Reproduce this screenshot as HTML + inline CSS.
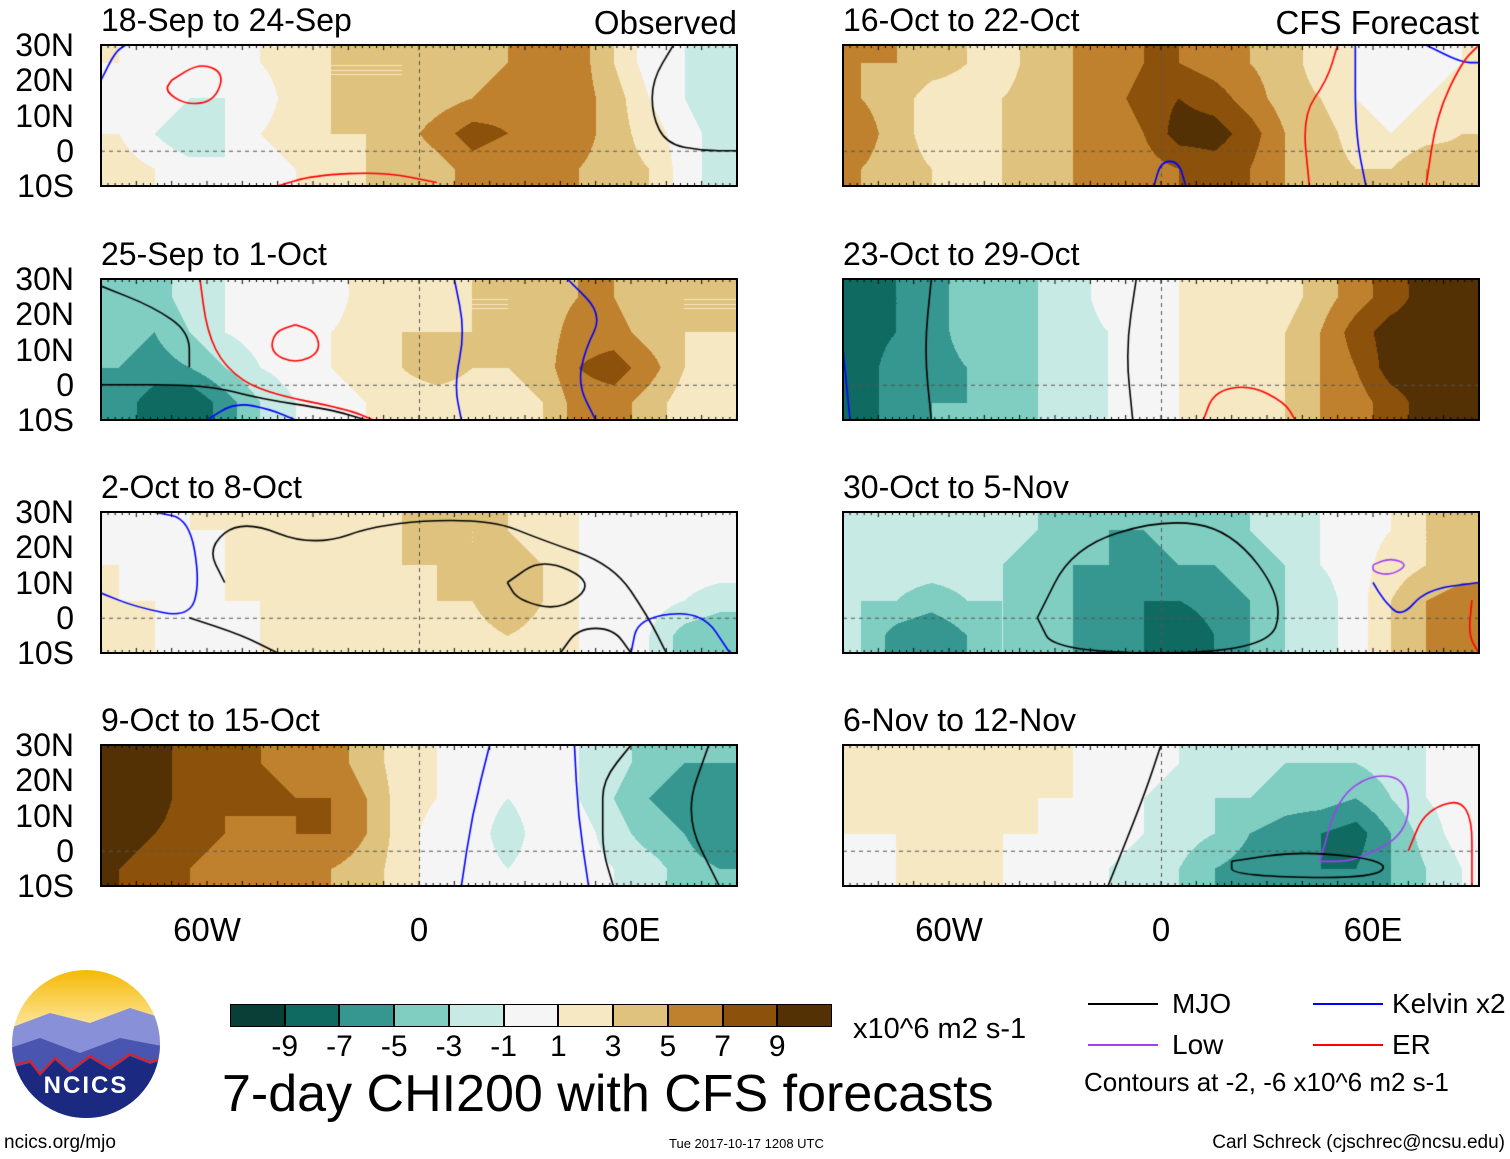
<!DOCTYPE html>
<html><head><meta charset="utf-8">
<style>
body{margin:0;background:#fff;width:1510px;height:1159px;overflow:hidden;position:relative;font-family:"Liberation Sans",sans-serif;}
.t{position:absolute;white-space:nowrap;color:#000;line-height:1;}
canvas{position:absolute;}
.frame{position:absolute;border:2px solid #000;box-sizing:border-box;}
</style></head><body>
<div id="root"></div>
<script>
// Longitude centers -85..85 (10° steps), latitude centers 25,15,5,-5
const lonCenters=[-85,-75,-65,-55,-45,-35,-25,-15,-5,5,15,25,35,45,55,65,75,85];
const latCenters=[25,15,5,-5];
const levels=[-9,-7,-5,-3,-1,1,3,5,7,9];
const colors=["#0a3f38","#0f6b62","#35978f","#80cdc1","#c7eae5","#f5f5f5","#f6e8c3","#dfc27d","#bf812d","#8c510a","#543005"];
const titles=["18-Sep to 24-Sep","25-Sep to 1-Oct","2-Oct to 8-Oct","9-Oct to 15-Oct","16-Oct to 22-Oct","23-Oct to 29-Oct","30-Oct to 5-Nov","6-Nov to 12-Nov"];
const p1=[[1,0,-1,0,1,2,3,3,3,3,4,5,5,6,3,0,-1,-2],[0,1,-1,-1,0,2,3,3,3,4,5,6,5,6,4,1,-1,-3],[1,-1,-3,-1,1,2,3,3,4,6,8,7,5,6,4,2,0,-2],[2,1,0,-1,0,1,2,3,3,4,6,5,5,5,4,3,0,-2]];
const p2=[[-4,-4,-2,-1,0,0,0,2,3,2,3,3,4,5,5,3,3,3],[-4,-5,-3,-1,0,0,1,2,3,3,3,3,4,6,6,4,3,3],[-5,-6,-5,-3,-1,0,1,2,3,4,3,3,4,7,8,6,3,2],[-6,-8,-9,-6,-3,-1,0,1,2,2,2,2,3,6,6,4,2,1]];
const p3=[[0,0,1,1,2,2,1,2,3,4,3,3,2,1,0,0,0,0],[1,0,0,1,1,1,1,2,3,3,3,4,3,1,0,-1,0,0],[1,1,0,1,1,1,1,2,2,3,3,5,3,1,1,0,-1,-2],[2,1,-1,0,1,1,1,1,1,2,2,3,2,1,0,-1,-4,-5]];
const p4=[[10,10,8,7,7,6,6,4,2,1,0,0,0,-1,-2,-4,-5,-5],[10,10,8,7,8,7,7,5,2,1,0,-1,0,-1,-3,-5,-6,-6],[10,9,8,7,6,7,7,5,2,0,0,-2,0,0,-2,-4,-5,-7],[9,8,7,6,5,5,5,4,2,0,0,-1,0,0,-1,-2,-4,-5]];
const p5=[[5,5,4,3,2,4,5,5,7,7,6,5,4,2,1,0,0,1],[5,4,2,2,3,4,5,6,8,9,8,6,4,3,1,0,1,2],[6,4,2,1,3,4,5,5,7,10,10,8,5,4,2,1,2,3],[5,4,3,2,3,4,5,5,6,7,8,7,5,4,3,3,5,4]];
const p6=[[-8,-7,-6,-4,-4,-3,-2,0,0,1,1,2,2,4,6,8,10,10],[-8,-7,-6,-4,-4,-3,-2,-1,0,1,2,2,3,5,8,10,10,10],[-8,-6,-6,-5,-4,-3,-2,-1,0,1,2,2,3,5,7,10,10,10],[-8,-6,-5,-5,-4,-3,-2,-1,0,1,1,1,3,5,6,8,10,10]];
const p7=[[-2,-2,-2,-2,-2,-3,-4,-5,-5,-4,-4,-3,-2,-1,0,1,3,3],[-2,-2,-2,-2,-3,-4,-5,-5,-6,-5,-5,-4,-3,-1,0,2,3,4],[-3,-3,-4,-3,-3,-4,-5,-6,-7,-7,-6,-5,-3,-2,0,3,5,6],[-3,-6,-7,-5,-3,-4,-5,-6,-7,-9,-7,-5,-3,-2,0,3,5,5]];
const p8=[[1,2,2,1,1,1,1,0,0,-1,-2,-2,-3,-3,-3,-2,-1,0],[1,2,3,2,1,1,1,0,-1,-2,-3,-3,-4,-4,-5,-3,-1,0],[1,1,2,1,1,1,0,0,-1,-2,-3,-5,-6,-7,-8,-5,-2,0],[0,1,1,1,1,0,0,-1,-2,-3,-5,-6,-6,-7,-7,-5,-3,-1]];
const panels=[p1,p2,p3,p4,p5,p6,p7,p8];
// contour lines per panel: [color, [[lon,lat],...]]
const contours=[
 [["#f00",[[-70,20],[-62,25],[-55,22],[-58,14],[-66,13],[-72,17],[-70,20]]],["#f00",[[-40,-10],[-30,-7],[-10,-6],[5,-9]]],["#000",[[72,30],[66,20],[66,10],[70,2],[80,0],[90,0]]],["#00f",[[-90,20],[-86,28],[-83,30]]]],
 [["#00f",[[10,30],[13,15],[10,0],[12,-10]]],["#00f",[[42,30],[52,20],[47,10],[45,0],[50,-10]]],["#f00",[[-62,30],[-60,15],[-55,5],[-45,-2],[-20,-7],[-13,-10]]],["#000",[[-90,0],[-60,0],[-45,-4],[-25,-7],[-15,-10]]],["#f00",[[-35,17],[-29,15],[-28,9],[-35,6],[-42,9],[-41,15],[-35,17]]],["#00f",[[-60,-10],[-52,-5],[-42,-7],[-35,-10]]],["#000",[[-90,28],[-75,22],[-65,15],[-65,5]]]],
 [["#000",[[-55,10],[-60,20],[-50,28],[-30,20],[-10,27],[20,28],[35,22],[55,15],[65,0],[70,-10]]],["#000",[[25,10],[35,17],[50,10],[40,2],[28,5],[25,10]]],["#00f",[[60,-10],[62,0],[80,2],[88,-10]]],["#00f",[[-75,30],[-65,28],[-62,10],[-65,0],[-80,3],[-90,7]]],["#000",[[-65,0],[-50,-5],[-40,-10]]],["#000",[[40,-10],[45,-3],[55,-3],[60,-10]]]],
 [["#00f",[[20,30],[15,10],[12,-10]]],["#00f",[[44,30],[45,10],[48,-10]]],["#000",[[82,30],[75,10],[85,-10]]],["#000",[[60,30],[52,20],[52,10],[52,0],[55,-10]]]],
 [["#f00",[[42,-10],[40,10],[47,20],[50,30]]],["#00f",[[55,30],[55,5],[58,-10]]],["#00f",[[75,30],[85,25],[90,25]]],["#f00",[[75,-10],[78,10],[85,25],[90,30]]],["#00f",[[-2,-10],[0,-3],[5,-3],[7,-10]]]],
 [["#000",[[-65,30],[-67,10],[-65,-10]]],["#000",[[-7,30],[-10,10],[-8,-10]]],["#f00",[[12,-10],[15,-2],[25,0],[35,-5],[38,-10]]],["#00f",[[-90,10],[-88,-10]]]],
 [["#000",[[-35,0],[-25,20],[0,28],[20,25],[35,5],[30,-10],[-30,-10],[-35,0]]],["#a040f0",[[60,15],[65,17],[70,15],[65,12],[60,13],[60,15]]],["#00f",[[60,10],[63,5],[68,0],[75,8],[90,10]]],["#f00",[[88,5],[87,-5],[90,-10]]]],
 [["#a040f0",[[45,-3],[50,15],[60,22],[70,20],[70,5],[55,-3],[45,-3]]],["#f00",[[70,0],[75,12],[88,15],[88,-10]]],["#000",[[20,-3],[40,0],[65,-3],[60,-8],[20,-7],[20,-3]]],["#000",[[-15,-10],[-5,15],[0,30]]]]
];
const yTicks=["30N","20N","10N","0","10S"];
const xTicks=["60W","0","60E"];
const xTickLon=[-60,0,60];

const root=document.getElementById('root');
const colX=[101,843], rowY=[45,279,512,745], W=636, H=141;
function xScale(lon){return (lon+90)/180*W;}
function yScale(lat){return (30-lat)/40*H;}
function hex(c){return [parseInt(c.substr(1,2),16),parseInt(c.substr(3,2),16),parseInt(c.substr(5,2),16)];}
const rgb=colors.map(hex);
function bin(v){let i=0;while(i<levels.length&&v>=levels[i])i++;return i;}
function sample(g,lon,lat){
  let fi=(lon-lonCenters[0])/10, fj=(latCenters[0]-lat)/10;
  fi=Math.max(0,Math.min(lonCenters.length-1,fi)); fj=Math.max(0,Math.min(latCenters.length-1,fj));
  const i0=Math.floor(fi),j0=Math.floor(fj),i1=Math.min(i0+1,lonCenters.length-1),j1=Math.min(j0+1,latCenters.length-1);
  const a=fi-i0,b=fj-j0;
  return (g[j0][i0]*(1-a)+g[j0][i1]*a)*(1-b)+(g[j1][i0]*(1-a)+g[j1][i1]*a)*b;
}
function txt(s,x,y,size,name){const d=document.createElement('div');d.className='t';d.textContent=s;d.style.left=x+'px';d.style.top=y+'px';d.style.fontSize=size+'px';


root.appendChild(d);return d;}

panels.forEach((g,k)=>{
  const col=k<4?0:1,row=k%4,X=colX[col],Y=rowY[row];
  const cv=document.createElement('canvas');cv.width=W;cv.height=H;cv.style.left=X+'px';cv.style.top=Y+'px';
  
  
  root.appendChild(cv);
  const ctx=cv.getContext('2d');const im=ctx.createImageData(W,H);
  for(let py=0;py<H;py++){const lat=30-py/H*40;for(let px=0;px<W;px++){const lon=-90+px/W*180;const c=rgb[bin(sample(g,lon,lat))];const o=(py*W+px)*4;im.data[o]=c[0];im.data[o+1]=c[1];im.data[o+2]=c[2];im.data[o+3]=255;}}
  ctx.putImageData(im,0,0);
  ctx.setLineDash([4,4]);ctx.strokeStyle='#555';ctx.lineWidth=1;
  ctx.beginPath();ctx.moveTo(0,yScale(0)+.5);ctx.lineTo(W,yScale(0)+.5);ctx.stroke();
  ctx.beginPath();ctx.moveTo(xScale(0)+.5,0);ctx.lineTo(xScale(0)+.5,H);ctx.stroke();
  ctx.setLineDash([]);
  ctx.lineWidth=1.6;ctx.lineJoin='round';
  contours[k].forEach(([c,pts])=>{ctx.strokeStyle=c;ctx.beginPath();
    pts.forEach((p,i)=>{const x=xScale(p[0]),y=yScale(p[1]);if(i==0)ctx.moveTo(x,y);else{const q=pts[i-1];const mx=(xScale(q[0])+x)/2,my=(yScale(q[1])+y)/2;ctx.quadraticCurveTo(xScale(q[0]),yScale(q[1]),mx,my);}});
    const l=pts[pts.length-1];ctx.lineTo(xScale(l[0]),yScale(l[1]));ctx.stroke();});
  ctx.strokeStyle='#000';ctx.lineWidth=1;
  for(let lon=-90;lon<=90;lon+=2){const x=xScale(lon);ctx.beginPath();ctx.moveTo(x,0);ctx.lineTo(x,lon%10==0?5:3);ctx.moveTo(x,H);ctx.lineTo(x,H-(lon%10==0?5:3));ctx.stroke();}
  const fr=document.createElement('div');fr.className='frame';fr.style.left=(X-1)+'px';fr.style.top=(Y-1)+'px';fr.style.width=(W+2)+'px';fr.style.height=(H+2)+'px';
  
  
  root.appendChild(fr);
  txt(titles[k],X,Y-41,32,'panel-title');
  if(k==0){const d=txt('Observed',537,Y-39,33,'observed-label');d.style.width='200px';d.style.textAlign='right';}
  if(k==4){const d=txt('CFS Forecast',1229,Y-39,33,'cfs-forecast-label');d.style.width='250px';d.style.textAlign='right';}
  if(col==0){yTicks.forEach((s,i)=>{const d=txt(s,0,Y+i*35.25-16,32,'y-tick-label');d.style.width='74px';d.style.textAlign='right';});}
});
[0,1].forEach(col=>{xTickLon.forEach((lon,i)=>{const d=txt(xTicks[i],colX[col]+xScale(lon)-60,913,33,'x-tick-label');d.style.width='120px';d.style.textAlign='center';});});

// colorbar
const cbX=230,cbW=602,cbY=1004,cbH=23,bw=cbW/colors.length;
colors.forEach((c,i)=>{const d=document.createElement('div');d.style.cssText=`position:absolute;left:${cbX+i*bw}px;top:${cbY}px;width:${bw}px;height:${cbH}px;background:${c};box-sizing:border-box;border:1px solid #000;`;


root.appendChild(d);});
levels.forEach((v,i)=>{const d=txt(String(v),cbX+(i+1)*bw-30,1032,30,'colorbar-label');d.style.width='60px';d.style.textAlign='center';});
</script>
<div class="t" style="left:853px;top:1015px;font-size:29px">x10^6 m2 s-1</div>
<div class="t" style="left:222px;top:1068px;font-size:52px">7-day CHI200 with CFS forecasts</div>
<div>
<div style="position:absolute;left:1088px;top:1003px;width:70px;height:2px;background:#000"></div>
<div class="t" style="left:1172px;top:990px;font-size:28px">MJO</div>
<div style="position:absolute;left:1313px;top:1003px;width:70px;height:2px;background:#00f"></div>
<div class="t" style="left:1392px;top:990px;font-size:28px">Kelvin x2</div>
<div style="position:absolute;left:1088px;top:1044px;width:70px;height:2px;background:#a040f0"></div>
<div class="t" style="left:1172px;top:1031px;font-size:28px">Low</div>
<div style="position:absolute;left:1313px;top:1044px;width:70px;height:2px;background:#f00"></div>
<div class="t" style="left:1392px;top:1031px;font-size:28px">ER</div>
<div class="t" style="left:1084px;top:1069px;font-size:26px">Contours at -2, -6 x10^6 m2 s-1</div>
</div>
<svg style="position:absolute;left:10px;top:968px" width="152" height="152">
<defs><clipPath id="c"><circle cx="76" cy="76" r="74"/></clipPath><linearGradient id="sky" x1="0" y1="0" x2="0" y2="1"><stop offset="0" stop-color="#f5b800"/><stop offset=".4" stop-color="#fde7a0"/></linearGradient></defs>
<g clip-path="url(#c)"><rect width="152" height="152" fill="url(#sky)"/>
<path d="M0 60 L40 45 L80 55 L120 40 L152 50 L152 152 L0 152Z" fill="#8890d8"/>
<path d="M0 80 L30 70 L70 85 L110 70 L152 78 L152 152 L0 152Z" fill="#4a55b0"/>
<path d="M0 100 L20 95 L30 108 L45 92 L60 105 L80 90 L100 102 L120 88 L140 96 L152 92 L152 152 L0 152Z" fill="#1b2a80"/>
<polyline points="0,98 20,93 30,106 45,90 60,103 80,88 100,100 120,86 140,94 152,90" fill="none" stroke="#e02020" stroke-width="2"/></g>
<text x="76" y="125" text-anchor="middle" font-family="Liberation Sans" font-weight="bold" font-size="24" fill="#fff" letter-spacing="2">NCICS</text></svg>
<div class="t" style="left:4px;top:1133px;font-size:19px">ncics.org/mjo</div>
<div class="t" style="left:669px;top:1137px;font-size:13px">Tue 2017-10-17 1208 UTC</div>
<div class="t" style="left:1189px;top:1133px;font-size:19px;width:316px;text-align:right">Carl Schreck (cjschrec@ncsu.edu)</div>
</body></html>
